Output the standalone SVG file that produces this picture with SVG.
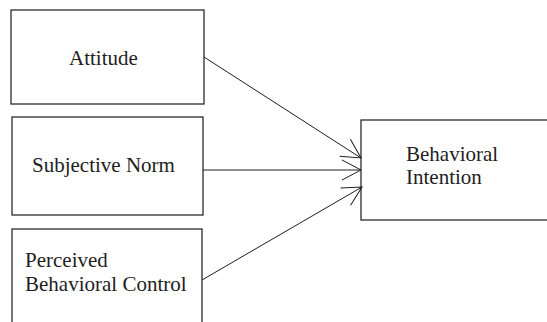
<svg xmlns="http://www.w3.org/2000/svg" width="547" height="322" viewBox="0 0 547 322">
<style>
.box{fill:#fff;stroke:#2b2b2b;stroke-width:1.3}
.lbl{font-family:"Liberation Serif","Times New Roman",serif;font-size:21px;fill:#1e1e1e}
.con{stroke:#1e1e1e;stroke-width:1;fill:none}
</style>
<defs>
<marker id="arr" markerUnits="userSpaceOnUse" markerWidth="24" markerHeight="24" viewBox="-21 -12 24 24" refX="0" refY="0" orient="auto">
<path d="M-19,-10 L0,0 L-19,10" fill="none" stroke="#1e1e1e" stroke-width="1"/>
</marker>
</defs>
<rect width="547" height="322" fill="#fff"/>
<g id="attitude">
<rect class="box" x="11" y="10" width="193" height="94"/>
<text class="lbl" x="69" y="65">Attitude</text>
</g>
<g id="subjective-norm">
<rect class="box" x="12" y="117" width="191" height="98"/>
<text class="lbl" x="32" y="172">Subjective Norm</text>
</g>
<g id="perceived-behavioral-control">
<rect class="box" x="12" y="229" width="190" height="110"/>
<text class="lbl" x="25" y="267">Perceived</text>
<text class="lbl" x="25" y="291">Behavioral Control</text>
</g>
<g id="behavioral-intention">
<rect class="box" x="361" y="120" width="200" height="100"/>
<text class="lbl" x="406" y="161">Behavioral</text>
<text class="lbl" x="406" y="184">Intention</text>
</g>
<g id="connectors">
<line class="con" x1="204" y1="57" x2="361" y2="158" marker-end="url(#arr)"/>
<line class="con" x1="203" y1="170" x2="361" y2="170" marker-end="url(#arr)"/>
<line class="con" x1="202" y1="280" x2="362" y2="187" marker-end="url(#arr)"/>
</g>
</svg>
